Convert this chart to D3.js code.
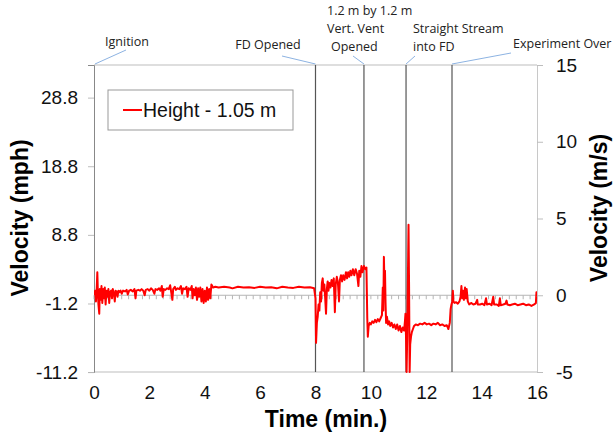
<!DOCTYPE html>
<html>
<head>
<meta charset="utf-8">
<script src="https://cdn.jsdelivr.net/npm/d3@7"></script>
<style>
  body { margin: 0; background: #fff; }
  svg { display: block; }
</style>
</head>
<body>
<div id="chart"></div>
<script>
// time (min) and velocity (m/s)
const times = [
  0.00, 0.04, 0.07, 0.10, 0.12, 0.14, 0.16, 0.19, 0.21, 0.24, 0.27, 0.30, 0.33, 0.36, 0.39, 0.42, 0.45, 0.48,
  0.52, 0.55, 0.58, 0.62, 0.65, 0.68, 0.72, 0.75, 0.78, 0.82, 0.85, 0.88, 0.92, 0.96, 1.00,
  1.05, 1.12, 1.18, 1.22, 1.27, 1.33, 1.40, 1.46, 1.50, 1.53, 1.60, 1.66, 1.72, 1.78, 1.83, 1.87, 1.94,
  2.00, 2.06, 2.12, 2.18, 2.22, 2.28, 2.35, 2.40, 2.45, 2.48, 2.52, 2.58, 2.64, 2.70, 2.75, 2.78, 2.83,
  2.86, 2.92, 2.96, 3.02, 3.08, 3.14, 3.18, 3.22, 3.28, 3.34, 3.38, 3.42, 3.48, 3.53, 3.56, 3.60, 3.64,
  3.68, 3.72, 3.76, 3.80, 3.84, 3.88, 3.92, 3.96, 4.00, 4.04, 4.08, 4.12, 4.16, 4.20, 4.24, 4.30, 4.38,
  4.50, 4.70, 4.90, 5.00, 5.20, 5.40, 5.60, 5.80, 6.00, 6.20, 6.40, 6.60, 6.80, 7.00, 7.20, 7.40, 7.60,
  7.80, 7.95,
  8.00, 8.02, 8.05, 8.08, 8.11, 8.14, 8.17, 8.20, 8.23, 8.26, 8.29, 8.32, 8.35, 8.38, 8.41, 8.44, 8.47,
  8.50, 8.54, 8.58, 8.62, 8.66, 8.70, 8.73, 8.77, 8.81, 8.85, 8.88, 8.92, 8.96, 9.00, 9.05, 9.10, 9.14,
  9.18, 9.22, 9.26, 9.30, 9.35, 9.40, 9.45, 9.50, 9.55, 9.58, 9.62, 9.66, 9.70, 9.75, 9.80, 9.84,
  9.87, 9.89, 9.92, 9.96, 10.00, 10.05, 10.10, 10.15, 10.20, 10.25, 10.30, 10.35, 10.40, 10.43, 10.45,
  10.47, 10.49, 10.51, 10.53, 10.55, 10.58, 10.62, 10.66, 10.70, 10.75, 10.80, 10.85, 10.90, 10.95,
  11.00, 11.05, 11.10, 11.15, 11.20, 11.23, 11.25, 11.27, 11.29, 11.31, 11.34, 11.36, 11.38, 11.40,
  11.42, 11.45, 11.48, 11.52, 11.56, 11.62, 11.70, 11.78, 11.86, 11.94, 12.02, 12.10, 12.18, 12.26,
  12.34, 12.42, 12.50, 12.58, 12.66, 12.74, 12.80, 12.85, 12.88, 12.91, 12.94, 12.96, 12.98,
  13.02, 13.08, 13.14, 13.20, 13.24, 13.27, 13.30, 13.33, 13.36, 13.40, 13.43, 13.46, 13.50, 13.55,
  13.62, 13.70, 13.78, 13.84, 13.86, 13.94, 14.02, 14.10, 14.16, 14.19, 14.28, 14.36, 14.42, 14.45,
  14.55, 14.62, 14.66, 14.69, 14.78, 14.86, 14.90, 14.93, 15.02, 15.10, 15.20, 15.30, 15.40, 15.50,
  15.60, 15.70, 15.80, 15.90, 15.96, 15.98, 16.00
];
const velocity = [
  0.0, 0.3, -0.4, 0.5, 1.5, 0.2, -0.6, -1.2, 0.4, -0.3, 0.6, -0.5, 0.4, -0.2, 0.5, -0.6, 0.3, -0.1,
  0.4, -0.5, 0.2, 0.3, -0.2, 0.4, 0.1, -0.4, 0.3, 0.2, -0.1, 0.3, 0.2, 0.3, 0.1,
  0.3, 0.25, 0.35, 0.05, 0.3, 0.35, 0.25, 0.4, -0.2, 0.3, 0.35, 0.3, 0.4, 0.3, 0.0, 0.35, 0.4,
  0.3, 0.45, 0.35, 0.1, 0.4, 0.35, 0.45, 0.3, 0.6, -0.1, 0.4, 0.35, 0.45, 0.4, 0.65, 0.3, -0.3,
  0.4, 0.55, 0.35, 0.45, 0.4, 0.6, 0.1, 0.45, 0.4, 0.55, -0.1, 0.45, 0.35, 0.6, -0.2, 0.4, 0.0,
  0.5, -0.3, 0.45, -0.1, 0.5, -0.4, 0.4, -0.5, 0.3, -0.4, 0.5, -0.3, 0.4, -0.2, 0.7, 0.5, 0.55,
  0.5, 0.55, 0.5, 0.45, 0.55, 0.5, 0.52, 0.48, 0.55, 0.5, 0.52, 0.45, 0.55, 0.5, 0.48, 0.55, 0.5,
  0.52, 0.45,
  -0.2, -3.1, -1.8, -1.4, -0.6, -1.0, 0.2, -0.4, 0.8, 1.1, 0.3, 0.7, -0.2, -1.2, 0.4, 0.9, 0.3,
  0.8, 0.5, 1.0, 0.6, 1.1, -1.1, 0.7, 1.2, 0.8, -0.4, 1.0, 1.3, 0.9, 1.3, 1.0, 1.5, 1.1,
  1.5, 1.2, 1.6, 1.3, 1.7, 1.3, 1.7, 1.4, 0.6, 1.6, 1.2, 1.9, 1.5, 1.9, 1.7, 1.8,
  -1.5, -2.7, -2.0, -1.8, -1.9, -1.7, -1.8, -1.6, -1.75, -1.55, -1.7, -1.5, -1.3, 0.5, -1.0,
  2.5, 0.8, 1.6, -0.5, -1.8, -1.4, -1.9, -1.7, -2.0, -1.8, -2.1, -1.9, -2.2, -1.9,
  -2.3, -2.0, -2.4, -2.1, -2.3, -1.7, -1.2, -2.8, -5.0, -2.9, 1.5, 4.6, 0.5, -5.0,
  -3.2, -2.7, -2.4, -2.2, -2.0, -1.9, -1.95, -1.85, -1.9, -1.8, -1.9, -1.85, -1.95, -1.85,
  -1.9, -1.8, -1.95, -1.9, -2.0, -1.95, -2.2, -1.8, -0.9, -0.6, -0.4, 0.3, -0.4,
  -0.5, -0.45, -0.55, -0.4, -0.1, 0.6, -0.2, 0.3, -0.3, 0.5, -0.2, 0.4, -0.4, -0.6,
  -0.5, -0.6, -0.55, -0.3, -0.6, -0.6, -0.55, -0.65, -0.2, -0.6, -0.55, -0.65, -0.1, -0.6,
  -0.6, -0.7, -0.2, -0.65, -0.6, -0.55, -0.35, -0.6, -0.65, -0.6, -0.55, -0.65, -0.6, -0.55,
  -0.65, -0.6, -0.7, -0.6, -0.5, 0.2, -0.1
];

const xTicks = [0, 2, 4, 6, 8, 10, 12, 14, 16];
const mphTicks = [-11.2, -1.2, 8.8, 18.8, 28.8];
const msTicks = [-5, 0, 5, 10, 15];

const eventTimes = [0, 8.0, 9.75, 11.27, 12.93];
const eventLabels = [
  ["Ignition"],
  ["FD Opened"],
  ["1.2 m by 1.2 m", "Vert. Vent", "Opened"],
  ["Straight Stream", "into FD"],
  ["Experiment Over"]
];

const seriesName = "Height - 1.05 m";
const MPH = 2.23694;

const width = 613, height = 434;
const margin = { top: 65, right: 76, bottom: 62, left: 94 };

const svg = d3.select('#chart').append('svg')
  .attr('width', width)
  .attr('height', height)
  .style('font-family', 'Liberation Sans, Arial, sans-serif');

const x = d3.scaleLinear().domain([0, 16]).range([margin.left, width - margin.right]);
const y = d3.scaleLinear().domain([-5, 15]).range([height - margin.bottom, margin.top]);
const yMph = d3.scaleLinear().domain([-5 * MPH, 15 * MPH]).range(y.range());

const x0 = x.range()[0], x1 = x.range()[1];
const yTop = y.range()[1], yBot = y.range()[0];

// plot frame
svg.append('line').attr('x1', x0).attr('x2', x1).attr('y1', yTop).attr('y2', yTop)
  .attr('stroke', '#bdbdbd').attr('stroke-width', 1);
svg.append('line').attr('x1', x0).attr('x2', x1).attr('y1', yBot).attr('y2', yBot)
  .attr('stroke', '#bdbdbd').attr('stroke-width', 1);

// left axis (mph)
const gl = svg.append('g')
  .attr('transform', `translate(${x0},0)`)
  .call(d3.axisLeft(yMph).tickValues(mphTicks).tickSize(6).tickPadding(10).tickFormat(d => d.toFixed(1)));
gl.select('.domain').attr('stroke', '#888');
gl.selectAll('.tick line').attr('stroke', '#bdbdbd');
gl.selectAll('.tick text').style('font-size', '19px').attr('fill', '#111');

// right axis (m/s)
const gr = svg.append('g')
  .attr('transform', `translate(${x1},0)`)
  .call(d3.axisRight(y).tickValues(msTicks).tickSize(6).tickPadding(13).tickFormat(d => String(d)));
gr.select('.domain').attr('stroke', '#c8c8c8');
gr.selectAll('.tick line').attr('stroke', '#bdbdbd');
gr.selectAll('.tick text').style('font-size', '19px').attr('fill', '#111');

// bottom labels (no ticks)
const gb = svg.append('g')
  .attr('transform', `translate(0,${yBot})`)
  .call(d3.axisBottom(x).tickValues(xTicks).tickSize(0).tickPadding(14));
gb.select('.domain').remove();
gb.selectAll('.tick text').style('font-size', '19px').attr('fill', '#111');

// zero line with minor ticks
svg.append('line').attr('x1', x0).attr('x2', x1).attr('y1', y(0)).attr('y2', y(0))
  .attr('stroke', '#b5b5b5').attr('stroke-width', 1);
svg.append('g').selectAll('line')
  .data(d3.range(0, 16.001, 0.25))
  .join('line')
  .attr('x1', d => x(d)).attr('x2', d => x(d))
  .attr('y1', y(0)).attr('y2', y(0) + 4)
  .attr('stroke', '#b5b5b5').attr('stroke-width', 1);

// event lines
svg.append('g').selectAll('line')
  .data(eventTimes.slice(1))
  .join('line')
  .attr('x1', d => x(d)).attr('x2', d => x(d))
  .attr('y1', yTop).attr('y2', yBot)
  .attr('stroke', '#555').attr('stroke-width', 1.2);

// data line
const pts = times.map((t, i) => [t, velocity[i]]);
svg.append('clipPath').attr('id', 'clip')
  .append('rect').attr('x', x0).attr('y', yTop).attr('width', x1 - x0).attr('height', yBot - yTop + 1);
svg.append('path')
  .datum(pts)
  .attr('clip-path', 'url(#clip)')
  .attr('fill', 'none')
  .attr('stroke', '#ff0000')
  .attr('stroke-width', 2)
  .attr('stroke-linejoin', 'round')
  .attr('d', d3.line().x(d => x(d[0])).y(d => y(d[1])));

// axis titles
svg.append('text')
  .attr('transform', `translate(28,218) rotate(-90)`)
  .attr('text-anchor', 'middle')
  .style('font-size', '23px').style('font-weight', 'bold')
  .text('Velocity (mph)');
svg.append('text')
  .attr('transform', `translate(607,208) rotate(-90)`)
  .attr('text-anchor', 'middle')
  .style('font-size', '23px').style('font-weight', 'bold')
  .text('Velocity (m/s)');
svg.append('text')
  .attr('x', 326).attr('y', 427)
  .attr('text-anchor', 'middle')
  .style('font-size', '23px').style('font-weight', 'bold')
  .text('Time (min.)');

// legend
const lg = svg.append('g').attr('transform', 'translate(108,90)');
lg.append('rect').attr('width', 185).attr('height', 40)
  .attr('fill', '#fff').attr('stroke', '#999').attr('stroke-width', 1);
lg.append('line').attr('x1', 15).attr('x2', 34).attr('y1', 20).attr('y2', 20)
  .attr('stroke', '#ff0000').attr('stroke-width', 2);
lg.append('text').attr('x', 35).attr('y', 27)
  .style('font-size', '19.5px').attr('fill', '#111')
  .text(seriesName);

// annotations
const notePos = [
  { tx: 127, anchor: 'middle', ys: [46], lx: 126, ly: 50 },
  { tx: 268, anchor: 'middle', ys: [49], lx: 282, ly: 56 },
  { tx: 327, anchor: 'start', ys: [15, 33, 51], lx: 353, ly: 56 },
  { tx: 413, anchor: 'start', ys: [33, 51], lx: 415, ly: 56 },
  { tx: 513, anchor: 'start', ys: [48], lx: 511, ly: 53 }
];
const notes = svg.append('g')
  .style('font-family', 'Open Sans, sans-serif')
  .style('font-size', '12.5px')
  .attr('fill', '#222');
eventLabels.forEach((lines, i) => {
  const p = notePos[i];
  lines.forEach((s, j) => {
    notes.append('text')
      .attr('x', (i === 2 && j === 2) ? p.tx + 4 : p.tx)
      .attr('y', p.ys[j])
      .attr('text-anchor', p.anchor)
      .text(s);
  });
  notes.append('line')
    .attr('x1', p.lx).attr('y1', p.ly)
    .attr('x2', x(eventTimes[i]) + (i === 0 ? 1 : 0)).attr('y2', yTop - 1)
    .attr('stroke', '#8db3e2').attr('stroke-width', 1);
});
</script>
</body>
</html>
